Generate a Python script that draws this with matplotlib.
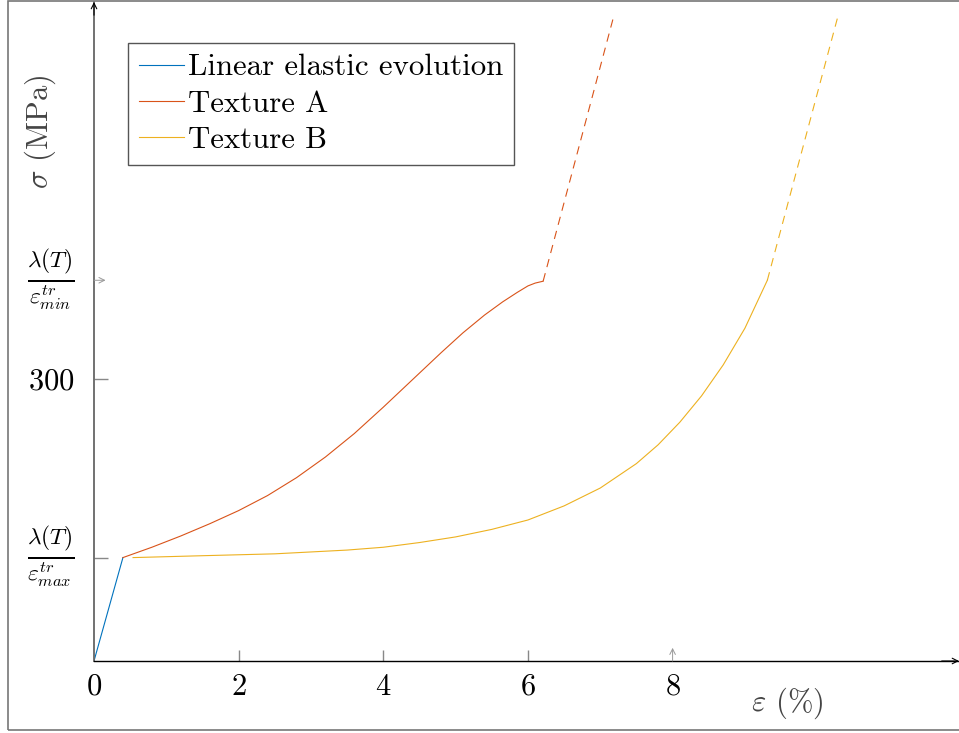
import numpy as np
import matplotlib
matplotlib.use("Agg")
from matplotlib import pyplot as plt
from matplotlib.patches import Rectangle

plt.rcParams["font.family"] = "cmr10"
plt.rcParams["mathtext.fontset"] = "cm"
plt.rcParams["axes.formatter.use_mathtext"] = True
plt.rcParams["lines.scale_dashes"] = False

# strain (%) / stress (MPa)
elastic_x = [0.0, 0.40]
elastic_y = [0, 110]

texA_x = [0.40, 0.8, 1.2, 1.6, 2.0, 2.4, 2.8, 3.2, 3.6, 4.0, 4.4, 4.8, 5.1,
          5.4, 5.65, 5.85, 6.0, 6.1, 6.21]
texA_y = [110, 121, 133, 146, 160, 176, 195, 217, 242, 270, 299, 328, 349,
          368, 382, 392, 399, 402, 404]
texA_dash_x = [6.21, 7.19]
texA_dash_y = [404, 687]

texB_x = [0.54, 1.5, 2.5, 3.5, 4.0, 4.5, 5.0, 5.5, 6.0, 6.5, 7.0, 7.5, 7.8,
          8.1, 8.4, 8.7, 9.0, 9.31]
texB_y = [110, 112, 114, 118, 121, 126, 132, 140, 150, 165, 184, 210, 230,
          254, 282, 315, 354, 405]
texB_dash_x = [9.31, 10.29]
texB_dash_y = [405, 687]

xticks = [0, 2, 4, 6, 8]
yticks = [110, 300, 405]
ytick_labels = [r"$\frac{\lambda(T)}{\varepsilon^{tr}_{max}}$", r"$300$",
                r"$\frac{\lambda(T)}{\varepsilon^{tr}_{min}}$"]

blue, red, yellow = "#0072BD", "#D95319", "#EDB120"
lw = 0.8

fig = plt.figure(figsize=(9.59, 7.33), dpi=100)
W, H = 959, 733
ax = fig.add_axes([94 / W, (H - 661) / H, (959 - 94) / W, (661 - 2) / H])

ax.plot(elastic_x, elastic_y, color=blue, lw=lw, label="Linear elastic evolution")
ax.plot(texA_x, texA_y, color=red, lw=lw, label="Texture A")
ax.plot(texB_x, texB_y, color=yellow, lw=lw, label="Texture B")
ax.plot(texA_dash_x, texA_dash_y, color=red, lw=lw, dashes=(6, 4.5))
ax.plot(texB_dash_x, texB_dash_y, color=yellow, lw=lw, dashes=(6, 4.5))

ax.set_xlim(0, 11.96)
ax.set_ylim(0, 701)
for s in ["top", "right"]:
    ax.spines[s].set_visible(False)
ax.spines["left"].set_color("#666666")
ax.spines["left"].set_linewidth(1.3)
ax.spines["bottom"].set_color("black")
ax.spines["bottom"].set_linewidth(1.0)

ax.set_xticks(xticks)
ax.set_xticklabels([f"${v}$" for v in xticks], fontsize=22)
ax.set_yticks(yticks)
ax.set_yticklabels(ytick_labels, fontsize=22)
for i, t in enumerate(ax.get_yticklabels()):
    if i != 1:
        t.set_fontsize(24)
        t.set_va("center")
ax.tick_params(axis="x", direction="in", length=8, width=1.0, color="#888888", pad=9)
ax.tick_params(axis="y", direction="in", length=10, width=1.0, color="#888888", pad=14)
# no tick at origin, arrows at 8 and lambda/eps_min
ax.xaxis.get_major_ticks()[0].tick1line.set_visible(False)
ax.xaxis.get_major_ticks()[4].tick1line.set_visible(False)
ax.yaxis.get_major_ticks()[2].tick1line.set_visible(False)
ax.annotate("", xy=(8, 14), xytext=(8, 0),
            arrowprops=dict(arrowstyle="->", color="#999999", lw=0.7, shrinkA=0, shrinkB=0))
ax.annotate("", xy=(0.16, 405), xytext=(0, 405),
            arrowprops=dict(arrowstyle="->", color="#999999", lw=0.7, shrinkA=0, shrinkB=0))

# axis arrows
ax.annotate("", xy=(1.0, 0), xytext=(0.98, 0), xycoords="axes fraction",
            arrowprops=dict(arrowstyle="->", color="black", lw=0.8, shrinkA=0, shrinkB=0))
ax.annotate("", xy=(0, 1.0), xytext=(0, 0.98), xycoords="axes fraction",
            arrowprops=dict(arrowstyle="->", color="black", lw=0.8, shrinkA=0, shrinkB=0))

fig.text(40 / W, 1 - 132 / H, r"$\sigma$ (MPa)", rotation=90, fontsize=22,
         color="#444444", ha="center", va="center")
fig.text(787 / W, 1 - 703 / H, r"$\varepsilon$ (%)", fontsize=22,
         color="#444444", ha="center", va="center")

leg = ax.legend(loc="upper left", bbox_to_anchor=(128 / W, 1 - 43 / H),
                bbox_transform=fig.transFigure, fontsize=22.2, frameon=True,
                fancybox=False, framealpha=1, edgecolor="#555555",
                handlelength=1.45, handletextpad=0.15, labelspacing=0.28,
                borderpad=0.35, borderaxespad=0)
leg.get_frame().set_linewidth(1.0)

fig.add_artist(Rectangle((8 / W, 3 / H), 1.0, 1 - 3 / H - 0.5 / H, transform=fig.transFigure,
                         fill=False, edgecolor="#777777", lw=1.2))

fig.savefig("out.png", dpi=100)
